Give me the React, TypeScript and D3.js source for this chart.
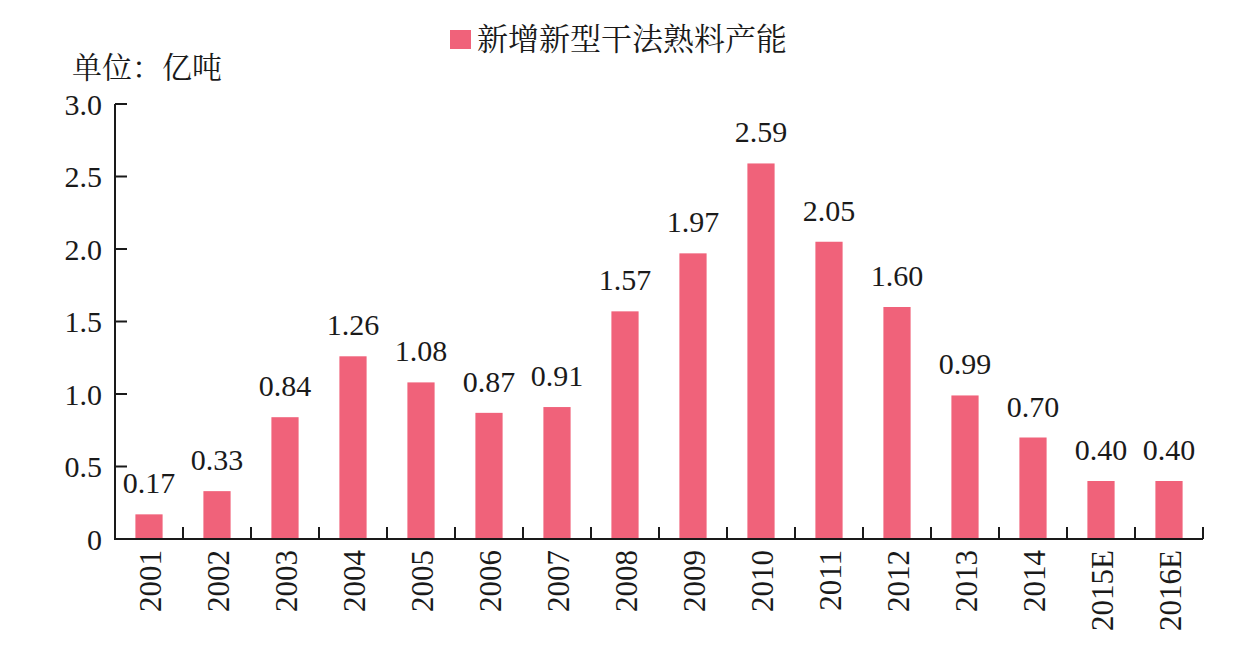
import React, { useRef, useEffect } from 'react';
import * as d3 from 'd3';

const years = ['2001', '2002', '2003', '2004', '2005', '2006', '2007', '2008', '2009', '2010', '2011', '2012', '2013', '2014', '2015E', '2016E'];
const capacity = [0.17, 0.33, 0.84, 1.26, 1.08, 0.87, 0.91, 1.57, 1.97, 2.59, 2.05, 1.60, 0.99, 0.70, 0.40, 0.40];
const yTicks = [0, 0.5, 1.0, 1.5, 2.0, 2.5, 3.0];
const seriesName = '新增新型干法熟料产能';
const unitLabel = '单位：亿吨';

const App = () => {
  const ref = useRef<SVGSVGElement>(null);
  useEffect(() => 
  {
    const svg = d3.select(ref.current);
    svg.selectAll('*').remove();

    const width = 1255;
    const height = 662;
    const left = 115, right = 1203, top = 104, bottom = 539;
    const barColor = '#f0627a';
    const numFont = '"Liberation Serif", "Times New Roman", serif';
    const cjkFont = '"Liberation Serif", "Noto Serif CJK SC", "Noto Sans CJK SC", serif';

    svg.attr('viewBox', `0 0 ${width} ${height}`);

    const x = d3.scaleBand().domain(years).range([left, right]).paddingInner(0.6).paddingOuter(0.3);
    const y = d3.scaleLinear().domain([0, 3]).range([bottom, top]);

    // bars
    svg.append('g').selectAll('rect').data(capacity).join('rect')
      .attr('x', (d, i) => x(years[i])!)
      .attr('y', d => y(d))
      .attr('width', x.bandwidth())
      .attr('height', d => y(0) - y(d))
      .attr('fill', barColor);

    // value labels
    svg.append('g').selectAll('text').data(capacity).join('text')
      .attr('x', (d, i) => x(years[i])! + x.bandwidth() / 2)
      .attr('y', d => y(d) - 21)
      .attr('text-anchor', 'middle')
      .style('font-family', numFont).style('font-size', '30px').style('fill', '#1a1a1a')
      .text(d => d.toFixed(2));

    // y axis, ticks pointing inward
    const yAxis = svg.append('g').attr('stroke', '#1a1a1a').attr('stroke-width', 2);
    yAxis.append('line').attr('x1', left).attr('x2', left).attr('y1', top).attr('y2', bottom);
    yAxis.selectAll('line.tick').data(yTicks.slice(1)).join('line').attr('class', 'tick')
      .attr('x1', left).attr('x2', left + 12).attr('y1', d => y(d)).attr('y2', d => y(d));
    svg.append('g').selectAll('text').data(yTicks).join('text')
      .attr('x', left - 13)
      .attr('y', d => y(d))
      .attr('dy', '0.35em')
      .attr('text-anchor', 'end')
      .style('font-family', numFont).style('font-size', '30px').style('fill', '#1a1a1a')
      .text(d => (d === 0 ? '0' : d.toFixed(1)));

    // x axis with ticks at category boundaries
    const step = x.step();
    const bounds = d3.range(1, years.length + 1).map(i => left + i * step);
    const xAxis = svg.append('g').attr('stroke', '#1a1a1a').attr('stroke-width', 2);
    xAxis.append('line').attr('x1', left - 1).attr('x2', right).attr('y1', bottom).attr('y2', bottom);
    xAxis.selectAll('line.tick').data(bounds).join('line').attr('class', 'tick')
      .attr('x1', d => d).attr('x2', d => d).attr('y1', bottom).attr('y2', bottom - 12);

    svg.append('g').selectAll('text').data(years).join('text')
      .attr('transform', d => `translate(${x(d)! + x.bandwidth() / 2 + 1},${bottom + 11}) rotate(-90)`)
      .attr('dy', '0.35em')
      .attr('text-anchor', 'end')
      .style('font-family', numFont).style('font-size', '31px').style('fill', '#1a1a1a')
      .text(d => d);

    // unit label
    svg.append('text').attr('x', 72).attr('y', 78)
      .style('font-family', cjkFont).style('font-size', '30px').style('fill', '#1a1a1a')
      .text(unitLabel);

    // legend
    svg.append('rect').attr('x', 450).attr('y', 30).attr('width', 21).attr('height', 19).attr('fill', barColor);
    svg.append('text').attr('x', 477).attr('y', 50)
      .style('font-family', cjkFont).style('font-size', '31px').style('fill', '#1a1a1a')
      .text(seriesName);
  }, []);

  return (
    <div style={{ position: 'absolute', left: 0, top: 0 }}>
      <svg ref={ref} width={1255} height={662} style={{ display: 'block', background: '#fff' }} />
    </div>
  );
};

export default App;
